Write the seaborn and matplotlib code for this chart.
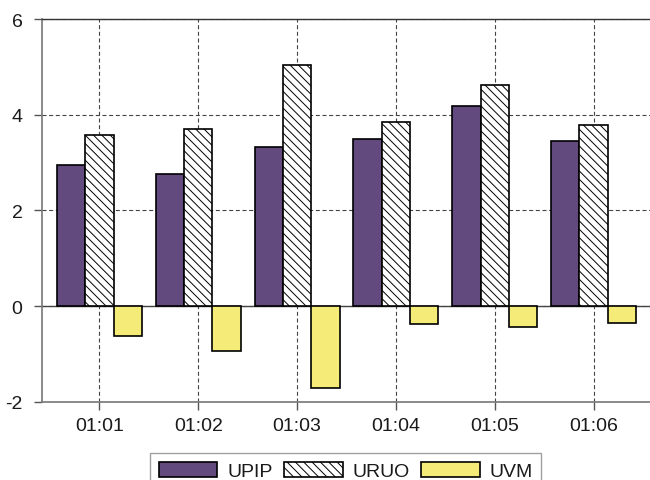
import matplotlib
matplotlib.use("Agg")
import matplotlib.pyplot as plt
import seaborn as sns
import pandas as pd

# values
categories = ["01:01", "01:02", "01:03", "01:04", "01:05", "01:06"]
upip = [2.96, 2.77, 3.32, 3.49, 4.19, 3.45]
uruo = [3.58, 3.70, 5.03, 3.85, 4.63, 3.79]
uvm = [-0.63, -0.94, -1.71, -0.37, -0.44, -0.34]
series = ["UPIP", "URUO", "UVM"]
y_ticks = [-2, 0, 2, 4, 6]

df = pd.DataFrame({
    "time": categories * 3,
    "value": upip + uruo + uvm,
    "series": [s for s in series for _ in categories],
})

sns.set_style("white")
plt.rcParams["font.family"] = ["Liberation Sans", "DejaVu Sans"]
plt.rcParams["hatch.linewidth"] = 0.7

fig = plt.figure(figsize=(6.5, 4.81), dpi=100)
ax = fig.add_axes([0.0646, 0.1622, 0.9354, 0.7962])

colors = {"UPIP": "#624a7e", "URUO": "white", "UVM": "#f4eb78"}
sns.barplot(data=df, x="time", y="value", hue="series", palette=colors,
            width=0.86, gap=0, edgecolor="black", linewidth=1.2,
            saturation=1, ax=ax, zorder=3)

# hatch for URUO bars
for bar in ax.containers[1]:
    bar.set_hatch("\\\\\\\\")

ax.get_legend().remove()

ax.set_xlim(-0.58, 5.57)
ax.set_ylim(-2, 6)
ax.set_yticks(y_ticks)
ax.set_yticklabels([str(t) for t in y_ticks])
ax.set_xlabel("")
ax.set_ylabel("")

ax.grid(True, color="#444444", linestyle=(0, (3.6, 2.4)), linewidth=0.8, zorder=1)
ax.axhline(0, color="#444444", linewidth=1.0, zorder=2)

for side in ["left", "bottom"]:
    ax.spines[side].set_color("#777777")
    ax.spines[side].set_linewidth(1.2)
ax.spines["top"].set_color("#333333")
ax.spines["top"].set_linewidth(1.0)
ax.spines["right"].set_visible(False)

ax.tick_params(axis="both", which="both", direction="out", length=6,
               width=1.0, color="#555555", labelsize=14, labelcolor="#1a1a1a")
ax.tick_params(axis="y", pad=8, left=True)
ax.tick_params(axis="x", pad=5, bottom=True)

handles = [ax.containers[i][0] for i in range(3)]
leg = fig.legend(handles, series, loc="upper center", ncol=3,
                 bbox_to_anchor=(0.532, 1 - 454 / 481), fontsize=14,
                 frameon=True, fancybox=False, edgecolor="#888888",
                 handlelength=3.0, handleheight=0.85, handletextpad=0.5,
                 columnspacing=0.6, borderpad=0.45, borderaxespad=0)
leg.get_frame().set_linewidth(1.0)
for t in leg.get_texts():
    t.set_color("#1a1a1a")

fig.savefig("out.png", dpi=100)
